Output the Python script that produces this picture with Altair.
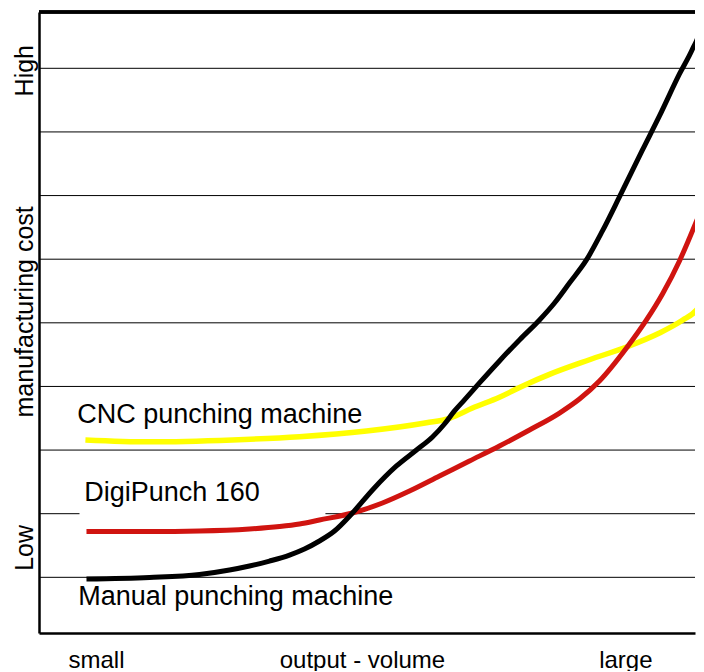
import altair as alt
import pandas as pd

# x: output volume (0 = left frame, 100 = right edge of original plot)
# y: manufacturing cost in grid steps (0 = lowest gridline, 8 = top gridline)
manual_x = [7.15, 16.64, 24.17, 28.69, 31.70, 34.71, 37.73, 39.98, 42.24, 44.50, 47.21,
            50.23, 53.84, 56.85, 59.26, 61.07, 62.58, 64.08, 66.34, 69.35, 72.36, 75.38,
            77.64, 79.89, 82.45, 84.86, 87.42, 90.89, 93.45, 96.46, 98.42, 99.47, 99.92]
manual_y = [-0.027, -0.003, 0.044, 0.115, 0.178, 0.256, 0.350, 0.445, 0.571, 0.728, 1.011,
            1.373, 1.750, 2.001, 2.206, 2.410, 2.615, 2.788, 3.055, 3.401, 3.731, 4.045,
            4.312, 4.626, 4.988, 5.444, 5.978, 6.717, 7.251, 7.911, 8.304, 8.571, 8.807]

digi_x = [7.15, 16.64, 24.17, 31.70, 36.22, 39.23, 42.24, 47.21, 51.73, 55.80, 60.32,
          64.83, 69.35, 73.87, 78.39, 81.40, 84.41, 88.48, 91.49, 93.90, 96.46, 97.97, 99.92]
digi_y = [0.720, 0.720, 0.728, 0.759, 0.798, 0.838, 0.901, 1.011, 1.168, 1.356, 1.592,
          1.828, 2.064, 2.315, 2.582, 2.802, 3.085, 3.604, 4.045, 4.453, 4.972, 5.333, 5.820]

cnc_x = [6.99, 16.64, 29.14, 39.23, 49.32, 58.36, 61.82, 65.29, 69.35, 73.11, 76.88,
         82.91, 88.48, 93.45, 96.91, 99.02, 100.08]
cnc_y = [2.16, 2.13, 2.16, 2.21, 2.30, 2.43, 2.50, 2.66, 2.83, 3.02, 3.19,
         3.42, 3.62, 3.84, 4.04, 4.20, 4.36]

grid_levels = [0, 1, 2, 3, 4, 5, 6, 7, 8]

label_text = ["CNC punching machine", "DigiPunch 160", "Manual punching machine"]
label_x = [5.75, 6.81, 5.90]
label_y = [2.42, 1.20, -0.435]

# white background behind the "DigiPunch 160" label (interrupts a gridline)
mask_x = [6.10]
mask_x2 = [43.14]
mask_y = [0.93]
mask_y2 = [1.45]

x_tick_pos = [8.58, 48.64, 88.31]
x_tick_text = ["small", "output - volume", "large"]
y_tick_pos = [0.47, 4.18, 7.97]
y_tick_text = ["Low", "manufacturing cost", "High"]

FONT = "Liberation Sans"


def label_expr(pos, txt):
    expr = "''"
    for p, t in reversed(list(zip(pos, txt))):
        expr = f"abs(datum.value - {p}) < 0.01 ? '{t}' : ({expr})"
    return expr


# plot shows x from 0 to ~98.8 (original right part is cut off by the page edge)
xscale = alt.Scale(domain=[0, 98.8], nice=False, zero=False)
yscale = alt.Scale(domain=[-0.875, 8.885], nice=False, zero=False)

x_axis = alt.Axis(
    values=x_tick_pos, labelExpr=label_expr(x_tick_pos, x_tick_text),
    grid=False, ticks=False, domainColor="black", domainWidth=2.5,
    labelFontSize=24, labelFont=FONT, labelColor="black", labelBaseline="alphabetic",
    labelPadding=34, labelFlush=False, labelOverlap=False, labelLimit=0, title=None,
)
y_axis = alt.Axis(
    values=y_tick_pos, labelExpr=label_expr(y_tick_pos, y_tick_text),
    grid=False, ticks=False, domainColor="black", domainWidth=2.5,
    labelFontSize=25, labelFont=FONT, labelColor="black", labelAngle=270,
    labelAlign="center", labelBaseline="alphabetic", labelPadding=6.5,
    labelFlush=False, labelOverlap=False, labelLimit=0, title=None,
)

X = lambda f: alt.X(f, scale=xscale, axis=x_axis)
Y = lambda f: alt.Y(f, scale=yscale, axis=y_axis)

grid_df = pd.DataFrame({"level": grid_levels})
grid = alt.Chart(grid_df).mark_rule(color="black", strokeWidth=1).encode(
    y=Y("level:Q"),
)

top_frame = alt.Chart(grid_df).mark_rule(color="black", strokeWidth=2.5).encode(
    y=alt.value(0)
)

mask_df = pd.DataFrame({"x": mask_x, "x2": mask_x2, "y": mask_y, "y2": mask_y2})
mask = alt.Chart(mask_df).mark_rect(color="white", opacity=1).encode(
    x=X("x:Q"), x2="x2:Q", y=Y("y:Q"), y2="y2:Q",
)


def curve(xs, ys, color, width):
    df = pd.DataFrame({"x": xs, "y": ys})
    return alt.Chart(df).mark_line(
        color=color, strokeWidth=width, clip=True, interpolate="monotone"
    ).encode(x=X("x:Q"), y=Y("y:Q"))


cnc = curve(cnc_x, cnc_y, "#ffff00", 5.5)
digi = curve(digi_x, digi_y, "#d01410", 5)
manual = curve(manual_x, manual_y, "#000000", 5)

labels_df = pd.DataFrame({"x": label_x, "y": label_y, "t": label_text})
labels = alt.Chart(labels_df).mark_text(
    align="left", baseline="alphabetic", fontSize=27, font=FONT, color="black"
).encode(x=X("x:Q"), y=Y("y:Q"), text="t:N")

chart = alt.layer(
    grid, top_frame, mask, cnc, digi, manual, labels
).properties(
    width=656, height=621,
    padding={"left": 31, "top": 4, "right": 1, "bottom": 38},
    autosize="none",
).configure_view(stroke=None)

chart.save("out.html", embed_options={"renderer": "svg", "actions": False})
